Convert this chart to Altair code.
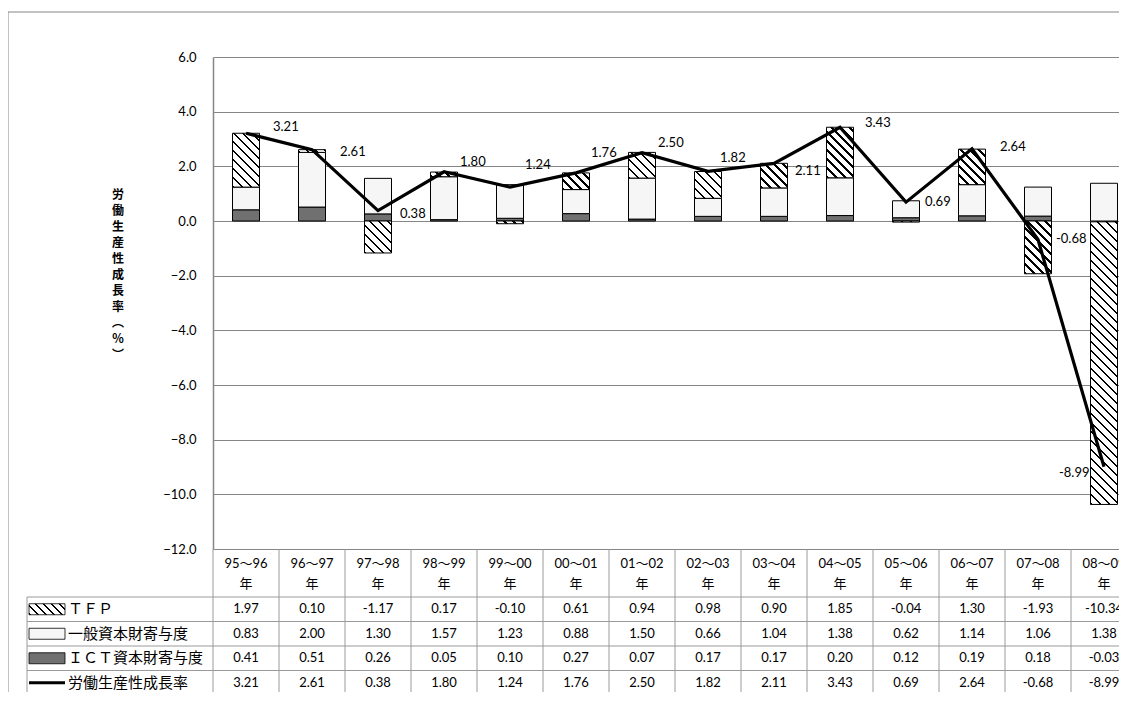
import altair as alt
import pandas as pd

# ---------------- data ----------------
periods = ["95～96", "96～97", "97～98", "98～99", "99～00", "00～01", "01～02",
           "02～03", "03～04", "04～05", "05～06", "06～07", "07～08", "08～09"]
tfp = [1.97, 0.10, -1.17, 0.17, -0.10, 0.61, 0.94, 0.98, 0.90, 1.85, -0.04, 1.30, -1.93, -10.34]
general_capital = [0.83, 2.00, 1.30, 1.57, 1.23, 0.88, 1.50, 0.66, 1.04, 1.38, 0.62, 1.14, 1.06, 1.38]
ict_capital = [0.41, 0.51, 0.26, 0.05, 0.10, 0.27, 0.07, 0.17, 0.17, 0.20, 0.12, 0.19, 0.18, -0.03]
labour_productivity = [3.21, 2.61, 0.38, 1.80, 1.24, 1.76, 2.50, 1.82, 2.11, 3.43, 0.69, 2.64, -0.68, -8.99]
series_labels = ["ＴＦＰ", "一般資本財寄与度", "ＩＣＴ資本財寄与度", "労働生産性成長率"]
y_ticks = [6.0, 4.0, 2.0, 0.0, -2.0, -4.0, -6.0, -8.0, -10.0, -12.0]
year_suffix = "年"
y_title = "労働生産性成長率︵％︶"

# data-label nudges (pixels, relative to each line point)
label_dx = [27, 28, 22, 16, 15, 15, 16, 12, 21, 25, 19, 28, 18, -45]
label_dy = [-6, 2, 3, -10, -22, -20, -10, -13, 8, -4, 0, -2, -1, 6]

# ---------------- styling ----------------
NUM_FONT = "Lato, 'Noto Sans CJK JP', sans-serif"
JP_FONT = "'Noto Sans CJK JP', sans-serif"
GRID = "#868686"
TABLE_LINE = "#9a9a9a"
DOT_FILL = "#f6f6f6"      # sparse-dot pattern
CHECK_FILL = "#707070"    # checkerboard pattern

FULL_W = 924      # 14 category columns of 66px (runs past the window edge)
VIEW_W = 906      # visible part of the plot inside the page
H = 492
Y_MIN, Y_MAX = -12, 6
BAR_W = 27
HEADER_H = 48
ROW_H = 24.5
table_top = H
row_tops = [table_top + HEADER_H + i * ROW_H for i in range(4)]
row_centers = [t + ROW_H / 2 for t in row_tops]
table_bottom = H + 160
label_left = -186


def hatch(w, h, period=9.0, dark=0.27):
    """Diagonal (top-left to bottom-right) stripe fill as a Vega linear gradient."""
    h = max(h, 1.0)
    span = w + h
    t = span / (w * w + h * h)
    step = period / span
    stops, pos = [], 0.0
    while pos < 1.0:
        b = min(1.0, pos + dark * step)
        c = min(1.0, pos + step)
        stops += [{"offset": round(pos, 5), "color": "#000000"},
                  {"offset": round(b, 5), "color": "#000000"},
                  {"offset": round(b, 5), "color": "#ffffff"},
                  {"offset": round(c, 5), "color": "#ffffff"}]
        pos += step
    return {"gradient": "linear", "x1": 0, "y1": 1, "x2": t * w, "y2": 1 - t * h, "stops": stops}


# ---------------- frames ----------------
px_per_unit = H / (Y_MAX - Y_MIN)
stack_rows = []
stack_series = [(series_labels[2], ict_capital), (series_labels[1], general_capital), (series_labels[0], tfp)]
for i, p in enumerate(periods):
    for order, (name, vals) in enumerate(stack_series):
        v = vals[i]
        if order == 2:
            fill = hatch(BAR_W, abs(v) * px_per_unit)
        elif order == 1:
            fill = DOT_FILL
        else:
            fill = CHECK_FILL
        stack_rows.append({"period": p, "series": name, "value": v, "order": order, "fillv": fill})
bars_df = pd.DataFrame(stack_rows)

line_df = pd.DataFrame({
    "period": periods,
    "growth": labour_productivity,
    "label": [f"{v:.2f}" for v in labour_productivity],
    "ldx": label_dx,
    "ldy": label_dy,
})

table_rows = [tfp, general_capital, ict_capital, labour_productivity]
table_records = []
for r, vals in enumerate(table_rows):
    for p, v in zip(periods, vals):
        table_records.append({"period": p, "row": r, "txt": f"{v:.2f}"})
table_df = pd.DataFrame(table_records)
period_df = pd.DataFrame({"period": periods, "yr": [year_suffix] * len(periods)})
dummy = pd.DataFrame({"d": [0]})

x_scale = alt.Scale(paddingInner=0, paddingOuter=0, range=[0, FULL_W])
x_enc = alt.X("period:N", sort=periods, scale=x_scale, axis=None)
y_scale = alt.Scale(domain=[Y_MIN, Y_MAX], nice=False, zero=False)
y_axis = alt.Axis(values=y_ticks, format=".1f", title=None, grid=True, gridColor=GRID,
                  gridWidth=1, domain=True, domainColor=GRID, domainWidth=1.5, ticks=False,
                  labelFont=NUM_FONT, labelFontSize=13, labelColor="black", labelPadding=17)

layers = []

# outer chart border
layers.append(alt.Chart(dummy).mark_rule(color=GRID, strokeWidth=1).encode(
    x=alt.value(-205), y=alt.value(-45), y2=alt.value(H + 300)))
layers.append(alt.Chart(dummy).mark_rule(color=GRID, strokeWidth=1).encode(
    x=alt.value(-205), x2=alt.value(FULL_W + 50), y=alt.value(-45)))

# stacked bars
layers.append(alt.Chart(bars_df).mark_bar(size=BAR_W, stroke="black", strokeWidth=1).encode(
    x=x_enc,
    y=alt.Y("value:Q", stack="zero", scale=y_scale, axis=y_axis),
    fill=alt.Fill("fillv", scale=None, legend=None),
    order=alt.Order("order:Q"),
))

# line
layers.append(alt.Chart(line_df).mark_line(color="black", strokeWidth=3.2).encode(
    x=x_enc, y=alt.Y("growth:Q", scale=y_scale, axis=y_axis)))

# line data labels
layers.append(alt.Chart(line_df).mark_text(
    align="left", baseline="middle", font=NUM_FONT, fontSize=13, color="black",
    dx=alt.ExprRef(expr="datum.ldx"), dy=alt.ExprRef(expr="datum.ldy"),
).encode(x=x_enc, y=alt.Y("growth:Q", scale=y_scale, axis=y_axis), text="label:N"))

# y axis title (vertical stacked characters)
layers.append(alt.Chart(dummy).mark_text(
    font=JP_FONT, fontSize=12, fontWeight="bold", lineBreak="\n", lineHeight=16,
    baseline="top", align="center", color="black",
).encode(x=alt.value(-95), y=alt.value(133), text=alt.value("\n".join(list(y_title)))))

# ---------------- data table ----------------
layers.append(alt.Chart(period_df).mark_rule(color=TABLE_LINE, strokeWidth=1).encode(
    x=alt.X("period:N", sort=periods, scale=x_scale, axis=None, bandPosition=0),
    y=alt.value(table_top), y2=alt.value(table_bottom)))
for yy in row_tops:
    layers.append(alt.Chart(dummy).mark_rule(color=TABLE_LINE, strokeWidth=1).encode(
        x=alt.value(label_left), x2=alt.value(FULL_W), y=alt.value(yy)))
layers.append(alt.Chart(dummy).mark_rule(color=TABLE_LINE, strokeWidth=1).encode(
    x=alt.value(label_left), y=alt.value(row_tops[0]), y2=alt.value(table_bottom)))

# header
layers.append(alt.Chart(period_df).mark_text(
    font=NUM_FONT, fontSize=13, baseline="middle", align="center", color="black").encode(
    x=x_enc, y=alt.value(table_top + 15), text="period:N"))
layers.append(alt.Chart(period_df).mark_text(
    font=JP_FONT, fontSize=13, baseline="middle", align="center", color="black").encode(
    x=x_enc, y=alt.value(table_top + 35), text="yr:N"))

# values
for r in range(4):
    layers.append(alt.Chart(table_df).transform_filter(alt.datum.row == r).mark_text(
        font=NUM_FONT, fontSize=13, baseline="middle", align="center", color="black").encode(
        x=x_enc, y=alt.value(row_centers[r]), text="txt:N"))

# legend keys + row labels
key_fills = [hatch(36, 11, period=8.0), DOT_FILL, CHECK_FILL]
for r in range(3):
    layers.append(alt.Chart(dummy).mark_rect(fill=key_fills[r], stroke="black", strokeWidth=0.8).encode(
        x=alt.value(-184), x2=alt.value(-148),
        y=alt.value(row_centers[r] - 5.5), y2=alt.value(row_centers[r] + 5.5)))
layers.append(alt.Chart(dummy).mark_rule(color="black", strokeWidth=3).encode(
    x=alt.value(-184), x2=alt.value(-148), y=alt.value(row_centers[3])))
for r in range(4):
    layers.append(alt.Chart(dummy).mark_text(
        font=JP_FONT, fontSize=15, baseline="middle", align="left", color="black").encode(
        x=alt.value(-145), y=alt.value(row_centers[r]), text=alt.value(series_labels[r])))

chart = alt.layer(*layers).properties(
    width=VIEW_W, height=H,
    autosize=alt.AutoSizeParams(type="none"),
    padding={"left": 205, "top": 49, "right": 0, "bottom": 143},
    background="white",
).configure_view(stroke=None)

chart.save("out.html", embed_options={"renderer": "svg", "actions": False})
